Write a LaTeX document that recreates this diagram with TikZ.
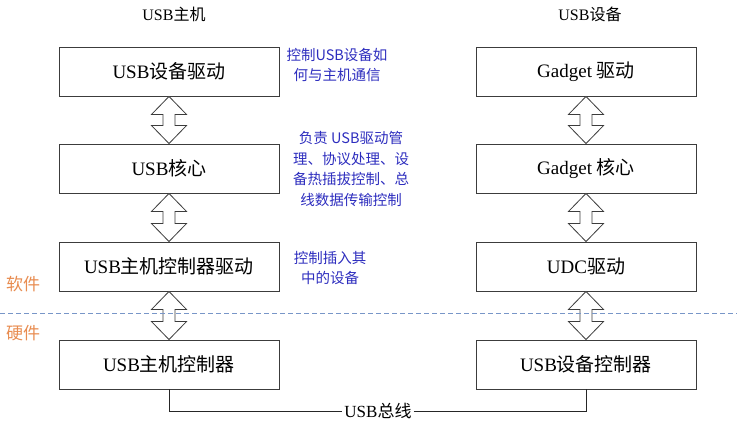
\documentclass[tikz,border=0pt]{standalone}
\usepackage{fontspec}
\setmainfont{Liberation Serif}
\newfontfamily\cjk{Noto Sans CJK SC}
\usetikzlibrary{calc}
\newcommand\zh[1]{{\cjk #1}}
\definecolor{boxline}{RGB}{60,60,60}
\definecolor{notecol}{RGB}{45,45,190}
\definecolor{layercol}{RGB}{232,140,80}
\definecolor{dashcol}{RGB}{120,150,200}
\tikzset{
  layerbox/.style={draw=boxline, line width=0.9pt, minimum width=220pt, minimum height=49pt, inner sep=0pt, font=\fontsize{19}{22}\selectfont},
  dblarr/.style={draw=boxline, line width=0.8pt, fill=white, line join=miter},
  note/.style={text=notecol, align=center, font=\cjk\fontsize{14.5}{20.8}\selectfont},
  layer/.style={text=layercol, font=\cjk\fontsize{17}{20}\selectfont},
  title/.style={font=\fontsize{16}{19}\selectfont},
  busline/.style={draw=black!85, line width=0.9pt}
}
\newcommand\dblarrow[2]{%
  \path[dblarr] (#1.south) -- ++(17.5,18) -- ++(-11.5,0) -- ($(#2.north)+(6,-18)$) -- ++(11.5,0) -- (#2.north) -- ++(-17.5,-18) -- ++(11.5,0) -- ($(#1.south)+(-6,18)$) -- ++(-11.5,0) -- cycle;}
\begin{document}
\begin{tikzpicture}[x=1pt,y=-1pt]
\useasboundingbox (0,0) rectangle (737,433);
% titles
\node[title] (th) at (174,14) {USB\zh{主机}};
\node[title] (td) at (590,14) {USB\zh{设备}};
% left column
\node[layerbox] (l1) at (169,71.5) {USB\zh{设备驱动}};
\node[layerbox] (l2) at (169,168.5) {USB\zh{核心}};
\node[layerbox] (l3) at (169,266.5) {USB\zh{主机控制器驱动}};
\node[layerbox] (l4) at (169,364.5) {USB\zh{主机控制器}};
% right column
\node[layerbox] (r1) at (586,71.5) {Gadget \zh{驱动}};
\node[layerbox] (r2) at (586,168.5) {Gadget \zh{核心}};
\node[layerbox] (r3) at (586,266.5) {UDC\zh{驱动}};
\node[layerbox] (r4) at (586,364.5) {USB\zh{设备控制器}};
% arrows
\dblarrow{l1}{l2}
\dblarrow{l2}{l3}
\dblarrow{l3}{l4}
\dblarrow{r1}{r2}
\dblarrow{r2}{r3}
\dblarrow{r3}{r4}
% dashed divider
\coordinate (dl) at (0,313);
\coordinate (dr) at (737,313);
\draw[dashcol, line width=0.8pt, dash pattern=on 5pt off 3pt] (dl) -- (dr);
% notes
\node[note] (n1) at (337,65) {控制USB设备如\\何与主机通信};
\node[note] (n2) at (351,169) {负责 USB驱动管\\理、协议处理、设\\备热插拔控制、总\\线数据传输控制};
\node[note] (n3) at (330,268) {控制插入其\\中的设备};
% layer labels
\node[layer] (sw) at (23,284) {软件};
\node[layer] (hw) at (23,333) {硬件};
% bus
\node[font=\fontsize{17}{20}\selectfont, inner sep=2pt] (bus) at (378,411) {USB\zh{总线}};
\draw[busline] (l4.south) |- (bus.west);
\draw[busline] (bus.east) -| (r4.south);
\end{tikzpicture}
\end{document}
